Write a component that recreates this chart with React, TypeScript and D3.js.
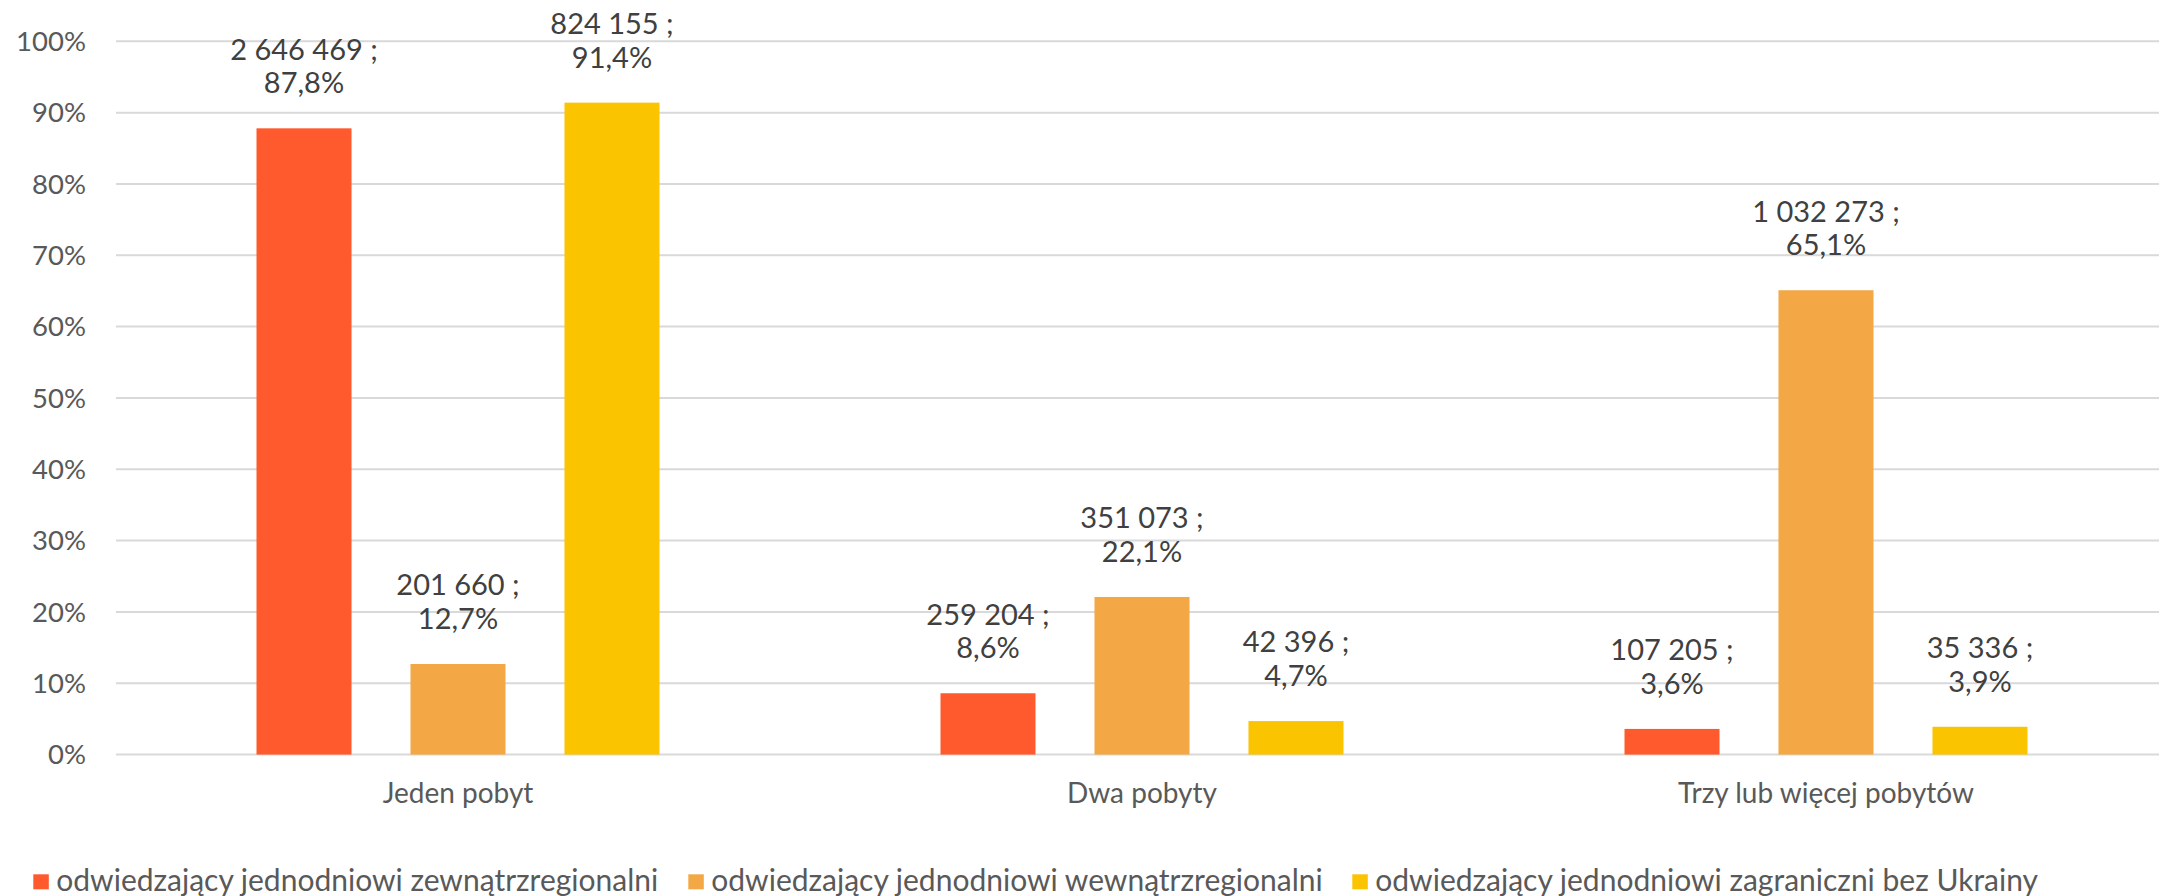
import React from "react";
import * as d3 from "d3";

const categories = ["Jeden pobyt", "Dwa pobyty", "Trzy lub więcej pobytów"];
const seriesNames = [
  "odwiedzający jednodniowi zewnątrzregionalni",
  "odwiedzający jednodniowi wewnątrzregionalni",
  "odwiedzający jednodniowi zagraniczni bez Ukrainy",
];
const seriesColors = ["#FF5A2D", "#F4A845", "#FBC400"];
const zewnatrzPct = [87.8, 8.6, 3.6];
const zewnatrzCount = [2646469, 259204, 107205];
const wewnatrzPct = [12.7, 22.1, 65.1];
const wewnatrzCount = [201660, 351073, 1032273];
const zagranicznePct = [91.4, 4.7, 3.9];
const zagraniczneCount = [824155, 42396, 35336];
const yTicks = [0, 10, 20, 30, 40, 50, 60, 70, 80, 90, 100];

const pctSeries = [zewnatrzPct, wewnatrzPct, zagranicznePct];
const countSeries = [zewnatrzCount, wewnatrzCount, zagraniczneCount];

const W = 2159;
const H = 896;
const FONT = "Lato, 'Open Sans', sans-serif";

export default function App() {
  const y = d3.scaleLinear().domain([0, 100]).range([754.6, 41.3]);
  const x0 = d3.scaleBand<string>().domain(categories).range([116, 2168]).padding(0);
  const bw0 = x0.bandwidth();
  const outer = 140.5;
  const x1 = d3
    .scaleBand<string>()
    .domain(seriesNames)
    .range([outer, bw0 - outer])
    .paddingInner(0.383)
    .paddingOuter(0);

  const fmtCount = (v: number) => d3.format(",")(v).replace(/,/g, " ");
  const fmtPct = (v: number) => v.toFixed(1).replace(".", ",") + "%";

  const legendX = [33.3, 688.3, 1352.3];

  return (
    <svg
      width={W}
      height={H}
      style={{ position: "absolute", left: 0, top: 0, background: "#fff" }}
      fontFamily={FONT}
    >
      <rect x={0} y={0} width={W} height={H} fill="#fff" />
      {yTicks.map((t) => (
        <g key={t}>
          <line x1={116} x2={W} y1={y(t)} y2={y(t)} stroke="#D9D9D9" strokeWidth={2} />
          <text x={86} y={y(t) + 9.6} textAnchor="end" fontSize={27.5} fill="#595959">
            {t + "%"}
          </text>
        </g>
      ))}
      {categories.map((c, ci) => (
        <g key={c} transform={`translate(${x0(c)},0)`}>
          {seriesNames.map((s, si) => {
            const v = pctSeries[si][ci];
            const bx = x1(s)!;
            const bw = x1.bandwidth();
            const top = y(v);
            const cx = bx + bw / 2;
            return (
              <g key={s}>
                <rect x={bx} y={top} width={bw} height={y(0) - top} fill={seriesColors[si]} />
                <text x={cx} y={top - 35 - 33.6} textAnchor="middle" fontSize={29} fill="#404040">
                  {fmtCount(countSeries[si][ci]) + " ;"}
                </text>
                <text x={cx} y={top - 35} textAnchor="middle" fontSize={29} fill="#404040">
                  {fmtPct(v)}
                </text>
              </g>
            );
          })}
          <text x={bw0 / 2} y={802.7} textAnchor="middle" fontSize={28} fill="#595959">
            {c}
          </text>
        </g>
      ))}
      {seriesNames.map((s, si) => (
        <g key={s} transform={`translate(${legendX[si]},0)`}>
          <rect x={0} y={874.3} width={15.5} height={15} fill={seriesColors[si]} />
          <text x={23} y={891} fontSize={30} fill="#595959">
            {s}
          </text>
        </g>
      ))}
    </svg>
  );
}
